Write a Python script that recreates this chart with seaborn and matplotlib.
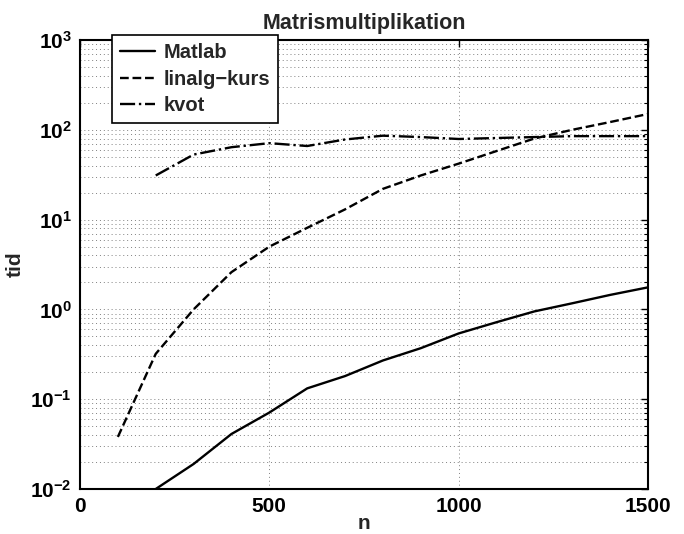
import numpy as np
import pandas as pd
import matplotlib
matplotlib.use("Agg")
import matplotlib.pyplot as plt
import seaborn as sns
from matplotlib.ticker import LogLocator, NullFormatter, FixedLocator

# ---- data ----
n = [100, 200, 300, 400, 500, 600, 700, 800, 900, 1000, 1100, 1200, 1300, 1400, 1500]
matlab = [np.nan, 0.0100, 0.019, 0.041, 0.071, 0.132, 0.181, 0.27, 0.37, 0.54, 0.72, 0.95, 1.17, 1.45, 1.76]
linalg = [0.038, 0.32, 1.0, 2.6, 5.0, 8.1, 13.0, 22.0, 31.0, 42.0, 58.0, 80.0, 100.0, 122.0, 150.0]
kvot = [np.nan, 31.0, 53.0, 64.0, 71.0, 66.0, 78.0, 86.0, 83.0, 79.0, 81.0, 83.0, 85.0, 85.0, 85.0]
series_names = ["Matlab", "linalg\u2212kurs", "kvot"]
title = "Matrismultiplikation"
xlabel = "n"
ylabel = "tid"
xticks = [0, 500, 1000, 1500]

sns.set_style("white")
plt.rcParams['font.family'] = ['Liberation Sans', 'DejaVu Sans']
plt.rcParams['font.weight'] = 'bold'
plt.rcParams['mathtext.fontset'] = 'custom'
plt.rcParams['mathtext.rm'] = 'Liberation Sans:bold'
plt.rcParams['mathtext.it'] = 'Liberation Sans:bold'
plt.rcParams['mathtext.bf'] = 'Liberation Sans:bold'
plt.rcParams['mathtext.default'] = 'regular'

W, H = 684, 534
fig = plt.figure(figsize=(W / 100, H / 100), dpi=100)
ax = fig.add_axes([80 / W, 1 - 489 / H, 568 / W, 449 / H])

df = pd.DataFrame({"n": n, "Matlab": matlab, "linalg": linalg, "kvot": kvot})
styles = [("Matlab", "-", series_names[0]),
          ("linalg", "--", series_names[1]),
          ("kvot", "-.", series_names[2])]
for col, ls, lab in styles:
    sub = df[["n", col]].dropna()
    sns.lineplot(data=sub, x="n", y=col, ax=ax, color="black", linestyle=ls,
                 linewidth=1.7, label=lab, estimator=None, sort=False)

ax.set_yscale("log")
ax.set_xlim(0, 1500)
ax.set_ylim(1e-2, 1e3)
ax.xaxis.set_major_locator(FixedLocator(xticks))
ax.yaxis.set_major_locator(LogLocator(base=10, numticks=10))
ax.yaxis.set_minor_locator(LogLocator(base=10, subs=np.arange(2, 10), numticks=20))
ax.yaxis.set_minor_formatter(NullFormatter())

fs = 15
ax.tick_params(which="both", direction="in", top=True, right=True, labelsize=fs, colors="black")
ax.tick_params(which="major", length=5, width=1.0, pad=6)
ax.tick_params(which="minor", length=3, width=0.8)
for lbl in ax.get_xticklabels() + ax.get_yticklabels():
    lbl.set_fontweight("bold")

grid_kw = dict(color="#808080", linestyle=(0, (1, 3)), linewidth=0.7)
ax.grid(True, which="major", axis="both", **grid_kw)
ax.grid(True, which="minor", axis="y", **grid_kw)

for s in ax.spines.values():
    s.set_visible(True)
    s.set_color("black")
    s.set_linewidth(1.5)

ax.set_title(title, fontsize=15.5, fontweight="bold", pad=8)
ax.set_xlabel(xlabel, fontsize=fs, fontweight="bold", labelpad=-2)
ax.set_ylabel(ylabel, fontsize=fs, fontweight="bold", labelpad=4)

leg = ax.legend(loc="upper left", bbox_to_anchor=(0.056, 1.011), fontsize=14.5,
                frameon=True, fancybox=False, edgecolor="black", framealpha=1,
                handlelength=1.75, borderpad=0.4, labelspacing=0.38, handletextpad=0.4,
                borderaxespad=0)
leg.get_frame().set_linewidth(1.2)
for t in leg.get_texts():
    t.set_fontweight("bold")
leg.set_zorder(10)

fig.savefig("out.png", dpi=100)
